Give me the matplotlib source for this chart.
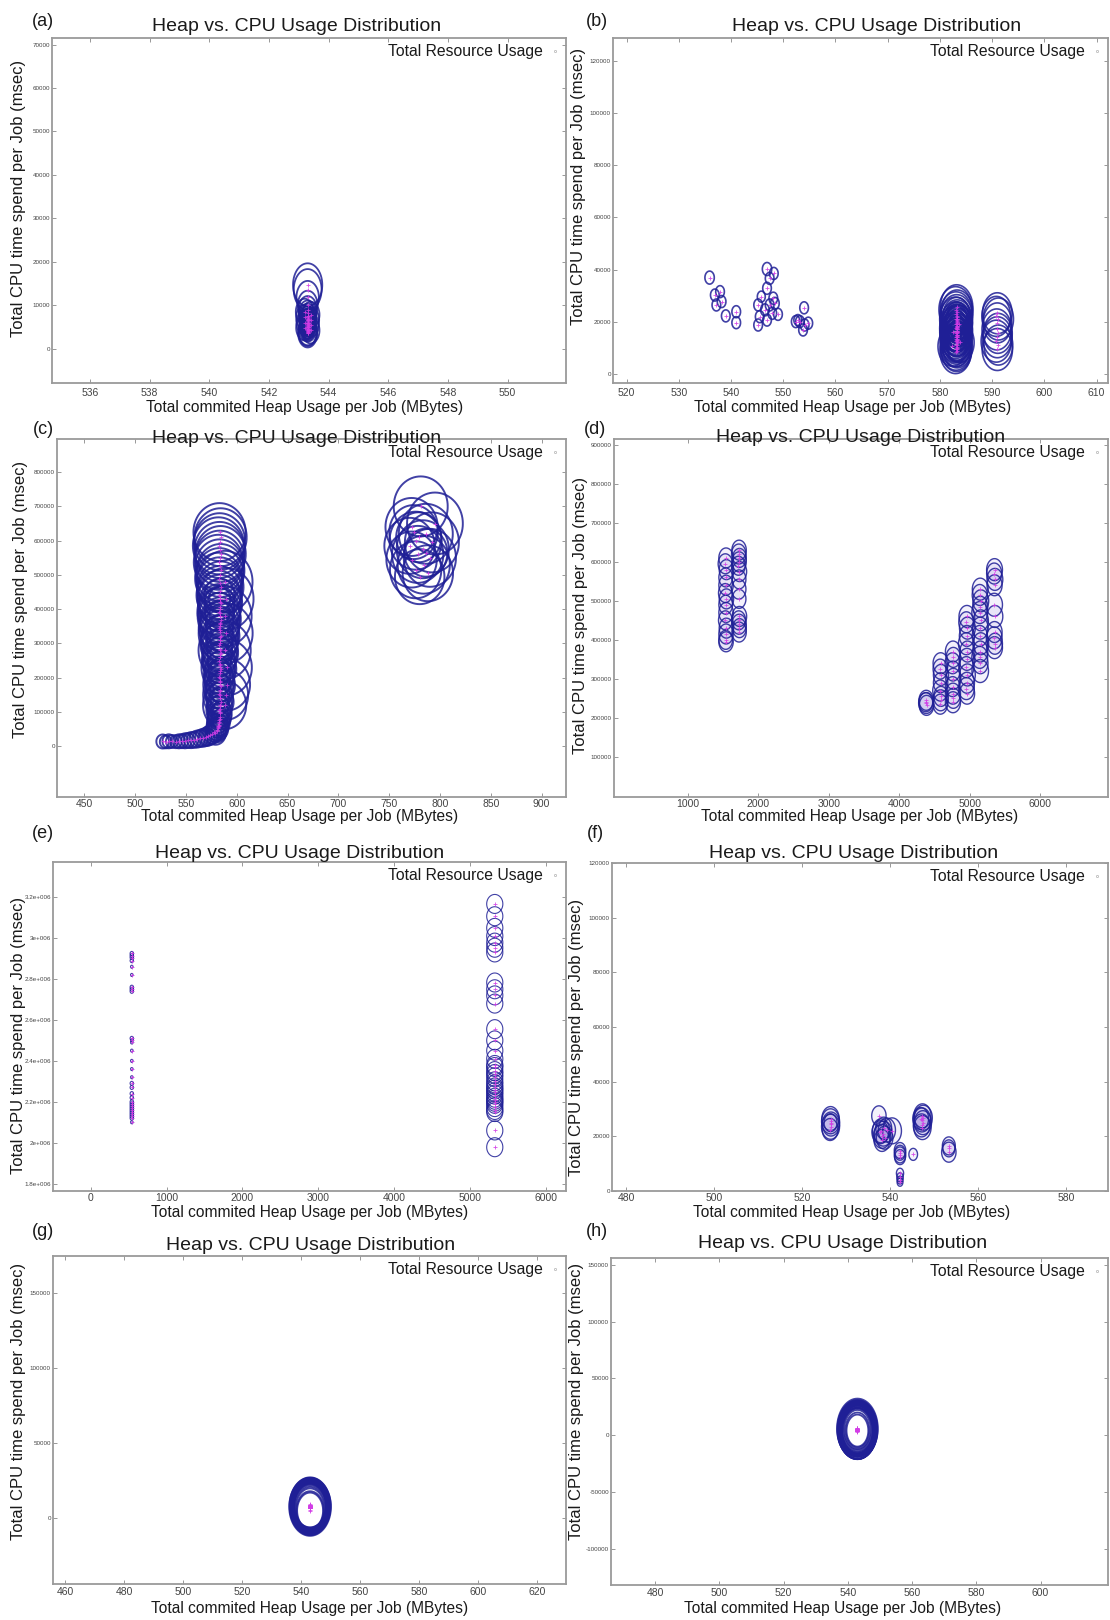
import numpy as np
import matplotlib
matplotlib.use("Agg")
import matplotlib.pyplot as plt
from matplotlib.path import Path
from matplotlib.lines import Line2D
from matplotlib.ticker import FormatStrFormatter

plt.rcParams['font.family'] = ['Liberation Sans', 'DejaVu Sans']

# ------------------------------------------------------------------ data
# (a)
heap_a = [543.3, 543.3, 543.3, 543.3, 543.3, 543.2, 543.3, 543.4, 543.3, 543.2,
          543.3, 543.4, 543.3, 543.2, 543.3, 543.4, 543.3, 543.2, 543.3, 543.4,
          543.3, 543.3, 543.3, 543.3, 543.3, 543.3, 543.3,
          543.3, 543.3, 543.3, 543.3, 543.3, 543.3, 543.3, 543.3, 543.3, 543.3,
          543.3, 543.3, 543.3, 543.3, 543.3, 543.3, 543.3, 543.3, 543.3, 543.3,
          543.3, 543.3, 543.3, 543.3, 543.3]
cpu_a = [14700, 13600, 11800, 10000, 9000, 8500, 8100, 7800, 7500, 7200,
         6900, 6600, 6300, 6000, 5700, 5400, 5100, 4800, 4500, 4200,
         3900, 3700, 3500, 4400, 4100, 5000, 6000,
         7500, 7000, 6500, 6000, 5500, 5000, 4500, 4000, 7200, 6700,
         6200, 5700, 5200, 4700, 4200, 3800, 6800, 6000, 5200, 4400,
         6500, 5500, 4500, 5800, 5000]
usage_a = [43, 41, 33, 29, 27, 26, 26, 26, 25, 25,
           25, 25, 24, 24, 24, 24, 24, 25, 25, 26,
           27, 27, 28, 12, 10, 9, 8,
           20, 20, 20, 20, 19, 19, 19, 19, 17, 17,
           17, 16, 16, 16, 16, 15, 14, 14, 13, 13,
           11, 11, 10, 9, 8]

# (b)
heap_b = [535.9, 536.9, 537.9, 537.2, 538.2, 539.0, 541.0, 541.0, 546.9, 547.4,
          548.2, 546.9, 548.1, 545.2, 545.5, 545.2, 546.5, 547.4, 547.9, 546.9,
          549.0, 548.4, 545.8, 552.4, 553.2, 554.0, 554.1, 554.8, 553.8, 552.8,
          583.2, 583.0, 583.3, 583.1, 583.2, 583.0, 583.3, 583.1, 583.2, 583.0,
          583.3, 583.1, 583.2, 583.0, 583.3, 583.1, 583.2, 583.0, 583.3, 583.1,
          583.2, 583.0, 582.4, 583.8, 582.6, 583.6, 583.2, 583.2, 583.2, 583.2,
          583.2, 583.2, 583.2, 583.2, 583.2, 583.2, 583.2, 583.2, 583.2, 583.2,
          583.2, 583.2, 583.2, 583.2, 583.2, 583.2, 583.2, 583.2, 583.2, 583.2,
          583.2, 583.2, 583.2, 583.2, 583.2, 583.2, 583.2,
          591.0, 590.8, 591.2, 591.0, 590.9, 591.1, 591.0, 590.8, 591.2, 591.0]
cpu_b = [36900, 30200, 31500, 26400, 27700, 22200, 23800, 19600, 40200, 36600,
         38500, 32800, 29000, 26400, 21900, 18700, 24500, 26400, 23200, 20600,
         22800, 27000, 29600, 20000, 20000, 25300, 18700, 19400, 16800, 20600,
         25500, 24600, 23700, 22800, 21900, 21000, 20100, 19200, 18300, 17400,
         16500, 15700, 14900, 14100, 13300, 12500, 11700, 11000, 10300, 9600,
         8900, 8300, 10500, 12000, 16000, 19000, 21000, 17000, 13000, 9500,
         22000, 20000, 18000, 16000, 14000, 12000, 10000, 21000, 19000, 17000,
         15000, 13000, 11000, 20500, 18500, 16500, 14500, 12500, 19500, 17500,
         15500, 13500, 18000, 16000, 14000, 17000, 15000,
         23200, 22000, 21000, 19500, 17000, 15500, 14000, 12500, 11000, 9300]
usage_b = [13, 12, 12, 12, 12, 12, 12, 12, 13, 12,
           12, 12, 12, 12, 12, 12, 12, 12, 12, 12,
           12, 12, 11, 12, 12, 12, 12, 12, 12, 11,
           45, 46, 44, 45, 44, 44, 43, 44, 43, 44,
           43, 43, 42, 43, 42, 43, 42, 43, 42, 43,
           42, 43, 40, 40, 38, 38, 30, 28, 26, 24,
           38, 38, 38, 38, 38, 38, 38, 34, 34, 34,
           34, 34, 34, 30, 30, 30, 30, 30, 26, 26,
           26, 26, 22, 22, 22, 18, 14,
           41, 40, 42, 40, 41, 40, 41, 42, 40, 42]

# (c)
heap_c = [583, 584, 583, 582, 583, 584, 583, 582, 583, 584,
          583, 582, 583, 584, 583, 582, 583, 584, 583, 582,
          583, 584, 583, 582, 583, 584, 583, 582, 583, 584,
          583, 582, 583, 584, 583, 582, 583, 584, 583, 582,
          583, 584, 583, 582, 583, 583, 582, 582, 581, 581,
          580, 579,
          583, 583, 583, 583, 583, 583, 583, 583, 583, 583,
          583, 583, 583, 583, 583, 583, 583, 583, 583, 582,
          583, 583, 583, 583, 583, 583, 583, 583, 583, 582,
          588, 589, 588, 589, 588, 590, 590, 589, 588,
          527, 530, 533, 536, 540, 543, 546, 549, 552, 555,
          558, 561, 564, 567, 570, 572, 574, 576, 578, 580,
          581, 582,
          781, 795, 772, 786, 776, 792, 770, 783, 778, 790,
          772, 784, 776, 788, 780, 779, 786, 774]
cpu_c = [625000, 610000, 597000, 585000, 573000, 561000, 549000, 537000, 525000, 513000,
         501000, 489000, 477000, 465000, 453000, 441000, 429000, 417000, 405000, 393000,
         381000, 369000, 357000, 345000, 333000, 321000, 309000, 297000, 285000, 273000,
         261000, 249000, 237000, 225000, 213000, 201000, 189000, 177000, 165000, 153000,
         141000, 129000, 117000, 106000, 96000, 86000, 77000, 68000, 60000, 52000,
         45000, 38000,
         440000, 420000, 400000, 380000, 360000, 340000, 320000, 300000, 280000, 260000,
         240000, 220000, 200000, 180000, 160000, 140000, 120000, 100000, 80000, 60000,
         430000, 390000, 350000, 310000, 270000, 230000, 190000, 150000, 110000, 70000,
         480000, 430000, 380000, 330000, 280000, 230000, 180000, 150000, 120000,
         14000, 13000, 14500, 14000, 13500, 14500, 15000, 16000, 17000, 18000,
         19000, 21000, 23000, 25000, 27000, 30000, 33000, 37000, 42000, 48000,
         55000, 62000,
         700000, 650000, 640000, 620000, 600000, 595000, 585000, 575000, 560000, 550000,
         545000, 530000, 515000, 505000, 495000, 610000, 565000, 625000]
usage_c = [58, 58, 57, 57, 56, 56, 55, 55, 54, 53,
           53, 52, 51, 51, 50, 49, 49, 48, 47, 47,
           46, 45, 44, 44, 43, 42, 41, 40, 40, 39,
           38, 37, 36, 35, 34, 33, 33, 32, 31, 30,
           30, 29, 28, 27, 27, 26, 25, 25, 24, 24,
           23, 23,
           34, 33, 33, 32, 31, 30, 30, 29, 28, 27,
           26, 25, 24, 23, 22, 21, 20, 19, 18, 16,
           24, 23, 22, 21, 20, 19, 18, 16, 14, 12,
           62, 62, 60, 60, 58, 56, 52, 50, 48,
           14, 13, 14, 13, 13, 14, 14, 15, 15, 16,
           16, 17, 17, 18, 18, 19, 19, 20, 20, 21,
           21, 22,
           60, 62, 58, 60, 58, 60, 56, 58, 57, 58,
           56, 58, 57, 56, 55, 50, 48, 54]

# (d)
heap_d = [1540, 1530, 1545, 1535, 1540, 1530, 1545, 1535, 1540, 1530, 1545, 1540, 1535, 1540,
          1725, 1720, 1730, 1725, 1715, 1730, 1725, 1720, 1725, 1730, 1720, 1725, 1730, 1725,
          4380, 4380, 4385, 4375,
          4585, 4580, 4590, 4585, 4580, 4590, 4585, 4580,
          4760, 4765, 4755, 4760, 4765, 4755, 4760, 4765, 4760,
          4958, 4950, 4965, 4958, 4950, 4965, 4958, 4950, 4965, 4958, 4950, 4960,
          5147, 5140, 5155, 5147, 5140, 5155, 5147, 5140, 5155, 5147, 5140, 5150, 5147,
          5350, 5345, 5355, 5350, 5345, 5355, 5350, 5345, 5355, 5350]
cpu_d = [610000, 595000, 580000, 560000, 540000, 520000, 505000, 490000, 470000, 450000, 430000, 415000, 400000, 395000,
         630000, 620000, 610000, 600000, 590000, 575000, 555000, 530000, 505000, 460000, 450000, 440000, 430000, 420000,
         245000, 238000, 232000, 240000,
         340000, 325000, 310000, 290000, 270000, 255000, 245000, 235000,
         370000, 355000, 340000, 320000, 300000, 280000, 262000, 250000, 240000,
         460000, 445000, 430000, 410000, 390000, 370000, 350000, 330000, 310000, 290000, 275000, 262000,
         530000, 515000, 500000, 485000, 470000, 450000, 430000, 410000, 390000, 370000, 355000, 340000, 320000,
         580000, 570000, 555000, 540000, 490000, 460000, 420000, 405000, 390000, 380000]
usage_d = [20, 20, 20, 19, 20, 19, 20, 19, 20, 19, 20, 20, 19, 20,
           20, 20, 19, 20, 19, 20, 19, 20, 19, 20, 19, 20, 19, 20,
           20, 21, 20, 19,
           21, 20, 21, 20, 21, 20, 21, 20,
           21, 20, 21, 20, 21, 20, 21, 20, 21,
           22, 21, 22, 21, 22, 21, 22, 21, 22, 21, 22, 21,
           22, 21, 22, 21, 22, 21, 22, 21, 22, 21, 22, 21, 23,
           22, 21, 22, 21, 23, 22, 21, 22, 21, 22]

# (e)
heap_e = [540, 540, 540, 540, 540, 540, 540, 540, 540, 540,
          540, 540, 540, 540, 540, 540, 540, 540, 540, 540,
          540, 540, 540, 540, 540, 540, 540, 540, 540, 540,
          5330, 5330, 5330, 5330, 5330, 5330, 5330, 5330, 5330, 5330,
          5330, 5330, 5330, 5330, 5330, 5330, 5330, 5330, 5330, 5330,
          5330, 5330, 5330, 5330, 5330, 5330, 5330, 5330, 5330, 5330,
          5330, 5330, 5330, 5330, 5330]
cpu_e = [2925000, 2915000, 2905000, 2890000, 2860000, 2820000, 2760000, 2750000, 2740000, 2510000,
         2500000, 2490000, 2450000, 2400000, 2360000, 2320000, 2290000, 2270000, 2240000, 2220000,
         2200000, 2190000, 2180000, 2170000, 2160000, 2150000, 2140000, 2130000, 2120000, 2100000,
         3167000, 3107000, 3050000, 3010000, 2978000, 2953000, 2930000, 2783000, 2750000, 2720000,
         2680000, 2555000, 2500000, 2450000, 2410000, 2370000, 2336000, 2300000, 2270000, 2247000,
         2220000, 2200000, 2174000, 2150000, 2060000, 1978000, 2380000, 2350000, 2320000, 2285000,
         2260000, 2235000, 2210000, 2190000, 2160000]
usage_e = [4, 4, 4, 4, 3, 3, 4, 4, 4, 4,
           3, 3, 3, 3, 3, 3, 4, 4, 4, 4,
           4, 4, 4, 4, 4, 4, 4, 4, 4, 3,
           19, 19, 19, 19, 19, 19, 19, 19, 19, 19,
           19, 19, 19, 19, 19, 19, 19, 19, 19, 19,
           19, 19, 19, 19, 19, 19, 19, 19, 19, 19,
           19, 19, 19, 19, 19]

# (f)
heap_f = [526.5, 526.5, 526.6, 526.5, 526.4, 526.5,
          537.5,
          538.0, 538.5, 538.2, 538.8, 538.2, 537.8, 539.3, 540.5, 538.6,
          542.3, 542.3, 542.3, 542.3, 542.3, 542.3, 542.3, 542.3,
          545.3,
          547.4, 547.6, 547.3, 547.5, 547.2, 547.4, 547.0,
          553.4, 553.4, 553.4]
cpu_f = [26500, 25500, 24500, 23500, 22500, 25000,
         27500,
         22000, 21000, 20000, 19500, 18500, 21500, 22300, 22000, 23000,
         14800, 14000, 13200, 12400, 6500, 5000, 4000, 3200,
         13400,
         27500, 26800, 26000, 25000, 24000, 23200, 26500,
         16500, 15600, 14200]
usage_f = [24, 25, 24, 25, 22, 18,
           20,
           24, 25, 24, 23, 22, 23, 24, 26, 22,
           16, 15, 16, 15, 10, 9, 8, 8,
           12,
           24, 25, 24, 24, 23, 24, 22,
           18, 17, 20]

# (g)
heap_g = [543.0, 543.0, 543.0, 543.0, 543.0, 543.0, 543.0, 543.0, 543.0, 543.0,
          543.0, 543.0, 543.0, 543.0, 543.0, 543.0, 543.0, 543.0, 543.0, 543.0,
          543.0, 543.0, 543.0, 543.0, 543.0, 543.0, 543.0, 543.0, 543.0, 543.0,
          543.0, 543.0]
cpu_g = [8500, 7500, 8000, 7000, 7500, 6500, 6500, 6500, 7500, 7000,
         5250, 5000,
         8200, 7800, 7400, 7000, 6600, 8600, 8000, 7600, 7200, 6800,
         9000, 8400, 7800, 7200, 8800, 8200, 7600, 9200, 8600, 8000]
usage_g = [55, 55, 51, 51, 46, 46, 43, 40, 58, 55,
           38, 36,
           57, 56, 55, 54, 53, 54, 53, 52, 51, 50,
           52, 51, 50, 49, 49, 48, 47, 46, 45, 44]

# (h)
heap_h = [543.0, 543.0, 543.0, 543.0, 543.0, 543.0, 543.0, 543.0, 543.0, 543.0,
          543.0, 543.0, 543.0, 543.0, 543.0, 543.0, 543.0, 543.0, 543.0, 543.0,
          543.0, 543.0, 543.0, 543.0, 543.0, 543.0]
cpu_h = [5750, 5750, 5750, 5750, 6000, 6000, 6000, 5500, 5000, 4500,
         4000,
         5000, 4500, 4000, 3500, 3000, 5200, 4700, 4200, 3700, 4800,
         4300, 3800, 3300, 4000, 3500]
usage_h = [60, 57, 55, 53, 50, 48, 46, 42, 39, 35,
           32,
           59, 58, 57, 56, 55, 54, 53, 52, 51, 50,
           49, 48, 47, 46, 45]

# axis ranges, ticks and tick labels
xlim_all = [(534.73, 551.96), (517.4, 612.2), (423, 924), (-50, 6960),
            (-500, 6270), (476.8, 589.6), (455.8, 629.8), (466.3, 621.0)]
ylim_all = [(-7900, 71500), (-3570, 128900), (-148000, 896700), (-3000, 915000),
            (1764000, 3372000), (0, 120000), (-44000, 175000), (-132000, 156000)]
xticks_all = [[536, 538, 540, 542, 544, 546, 548, 550],
              [520, 530, 540, 550, 560, 570, 580, 590, 600, 610],
              [450, 500, 550, 600, 650, 700, 750, 800, 850, 900],
              [1000, 2000, 3000, 4000, 5000, 6000],
              [0, 1000, 2000, 3000, 4000, 5000, 6000],
              [480, 500, 520, 540, 560, 580],
              [460, 480, 500, 520, 540, 560, 580, 600, 620],
              [480, 500, 520, 540, 560, 580, 600]]
yticks_all = [[0, 10000, 20000, 30000, 40000, 50000, 60000, 70000],
              [0, 20000, 40000, 60000, 80000, 100000, 120000],
              [0, 100000, 200000, 300000, 400000, 500000, 600000, 700000, 800000],
              [100000, 200000, 300000, 400000, 500000, 600000, 700000, 800000, 900000],
              [1800000, 2000000, 2200000, 2400000, 2600000, 2800000, 3000000, 3200000],
              [0, 20000, 40000, 60000, 80000, 100000, 120000],
              [0, 50000, 100000, 150000],
              [-100000, -50000, 0, 50000, 100000, 150000]]
ytick_labels_e = ['1.8e+006', '2e+006', '2.2e+006', '2.4e+006', '2.6e+006',
                  '2.8e+006', '3e+006', '3.2e+006']
panel_letters = ['(a)', '(b)', '(c)', '(d)', '(e)', '(f)', '(g)', '(h)']
title_text = 'Heap vs. CPU Usage Distribution'
xlabel_text = 'Total commited Heap Usage per Job (MBytes)'
ylabel_text = 'Total CPU time spend per Job (msec)'
legend_text = 'Total Resource Usage'

series = [(heap_a, cpu_a, usage_a), (heap_b, cpu_b, usage_b), (heap_c, cpu_c, usage_c),
          (heap_d, cpu_d, usage_d), (heap_e, cpu_e, usage_e), (heap_f, cpu_f, usage_f),
          (heap_g, cpu_g, usage_g), (heap_h, cpu_h, usage_h)]

# ------------------------------------------------------------------ layout / style
W, H, DPI = 1110, 1620, 100
boxes = [(52, 38, 566, 383), (613, 38, 1108, 383),
         (57, 439, 566, 797), (614, 439, 1108, 797),
         (53, 862, 566, 1191), (612, 863, 1108, 1191),
         (53, 1256, 566, 1584), (611, 1258, 1108, 1585)]
aspects = [0.68, 0.72, 0.9, 0.72, 0.85, 0.72, 0.72, 0.68]
edge_lw = [1.3, 1.2, 1.4, 1.0, 0.8, 1.0, 1.3, 1.3]
face_alpha = [0.0, 0.0, 0.0, 0.08, 0.0, 0.08, 0.0, 0.0]
xtick_pad = [3.5, 3.5, 1.5, 1.5, 1.5, 1.5, 2.0, 2.0]
letter_pos = [(43, 22), (597, 22), (43, 430), (595, 430), (43, 834), (595, 834), (43, 1232), (597, 1232)]
title_pos = [(297, 31), (877, 31), (297, 443), (861, 442), (300, 858), (854, 858), (311, 1250), (843, 1248)]
xlabel_pos = [(305, 408), (853, 408), (300, 817), (860, 817), (310, 1213), (852, 1213), (310, 1609), (843, 1609)]
ylabel_pos = [(19, 198), (579, 186), (21, 599), (581, 615), (19, 1035), (577, 1037), (19, 1401), (577, 1401)]

EDGE = '#1f1f96'
FACE = '#6a4fd0'
MAG = '#d23ce6'
TXT = '#1a1a1a'
SPINE = '#9a9a9a'
PX_TO_PT = 72.0 / DPI


def ellipse_marker(aspect):
    t = np.linspace(0, 2 * np.pi, 73)
    verts = np.column_stack([0.5 * aspect * np.cos(t), 0.5 * np.sin(t)])
    return Path(verts)


fig = plt.figure(figsize=(W / DPI, H / DPI), dpi=DPI)
fig.patch.set_facecolor('white')

for i in range(8):
    l, t, r, b = boxes[i]
    ax = fig.add_axes([l / W, 1 - b / H, (r - l) / W, (b - t) / H])
    heap, cpu, usage = series[i]
    sizes = [(u * PX_TO_PT) ** 2 for u in usage]
    mk = ellipse_marker(aspects[i])
    if face_alpha[i] > 0:
        ax.scatter(heap, cpu, s=sizes, marker=mk, facecolors=FACE, edgecolors='none',
                   alpha=face_alpha[i], zorder=1)
    ax.scatter(heap, cpu, s=sizes, marker=mk, facecolors='none', edgecolors=EDGE,
               linewidths=edge_lw[i], alpha=0.85, zorder=2)
    ax.scatter(heap, cpu, s=7, marker='+', c=MAG, linewidths=0.6, alpha=0.9, zorder=3)

    ax.set_xlim(*xlim_all[i])
    ax.set_ylim(*ylim_all[i])
    ax.set_xticks(xticks_all[i])
    ax.set_yticks(yticks_all[i])
    ax.xaxis.set_major_formatter(FormatStrFormatter('%d'))
    if i == 4:
        ax.set_yticklabels(ytick_labels_e)
    else:
        ax.yaxis.set_major_formatter(FormatStrFormatter('%d'))
    ax.tick_params(axis='both', direction='in', length=3, width=0.6, color='#888888',
                   top=True, right=True)
    ax.tick_params(axis='x', labelsize=7.5, labelcolor='#444444', pad=xtick_pad[i])
    ax.tick_params(axis='y', labelsize=4.5, labelcolor='#444444', pad=1.5)
    for sp in ax.spines.values():
        sp.set_color(SPINE)
        sp.set_linewidth(1.3)

    hnd = Line2D([], [], linestyle='none', marker='o', markersize=1.6,
                 markerfacecolor='none', markeredgecolor='#b0b0b0', markeredgewidth=0.5)
    ax.legend([hnd], [legend_text], loc='upper right', frameon=False, markerfirst=False,
              fontsize=11.3, handlelength=0.6, handletextpad=0.5, borderaxespad=0.2,
              borderpad=0.2, labelcolor=TXT)

    fig.text(letter_pos[i][0] / W, 1 - letter_pos[i][1] / H, panel_letters[i],
             fontsize=13, color=TXT, ha='center', va='center')
    fig.text(title_pos[i][0] / W, 1 - title_pos[i][1] / H, title_text,
             fontsize=14, color=TXT, ha='center', va='baseline')
    fig.text(xlabel_pos[i][0] / W, 1 - xlabel_pos[i][1] / H, xlabel_text,
             fontsize=11.2, color=TXT, ha='center', va='center')
    fig.text(ylabel_pos[i][0] / W, 1 - ylabel_pos[i][1] / H, ylabel_text,
             fontsize=12, color=TXT, ha='center', va='center', rotation=90)

fig.savefig('out.png', dpi=DPI, facecolor='white')
